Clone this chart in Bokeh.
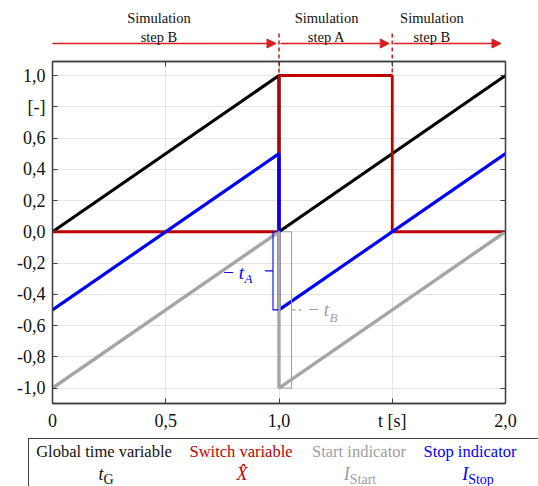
from bokeh.plotting import figure
from bokeh.layouts import column
from bokeh.models import (Range1d, LinearAxis, FixedTicker, Grid, Label, Arrow,
                          NormalHead, ColumnDataSource, Div)
from bokeh.embed import file_html
from bokeh.resources import INLINE

# ---------------- data ----------------
time_x = [0, 1, 1, 2]
global_time = [0, 1, 0, 1]          # t_G
switch_x = [0, 1, 1, 1.5, 1.5, 2]
switch_var = [0, 0, 1, 1, 0, 0]     # X^
start_ind = [-1, 0, -1, 0]          # I_Start
stop_ind = [-0.5, 0.5, -0.5, 0.5]   # I_Stop

step_bounds = [0, 1.0, 1.5, 2.0]
step_names = ["step B", "step A", "step B"]

x_ticks = [0, 0.5, 1.0, 1.5, 2.0]
x_tick_labels = ["0", "0,5", "1,0", "t [s]", "2,0"]
y_ticks = [-1.0, -0.8, -0.6, -0.4, -0.2, 0.0, 0.2, 0.4, 0.6, 0.8, 1.0]
y_tick_labels = ["-1,0", "-0,8", "-0,6", "-0,4", "-0,2", "0,0", "0,2", "0,4", "0,6", "[-]", "1,0"]

legend_names = ["Global time variable", "Switch variable", "Start indicator", "Stop indicator"]
legend_symbols = [("t", "G"), ("X&#770;", ""), ("I", "Start"), ("I", "Stop")]

# ---------------- styles ----------------
BLACK = "#000000"
RED = "#C00000"
GRAY = "#A6A6A6"
BLUE = "#0000FF"
ARROW_RED = "#D82020"
FRAME = "#404040"
FONT = "Liberation Serif"
legend_colors = ["#111111", RED, "#A0A0A0", BLUE]

W = 538
PX = 226.5                      # pixels per x unit
LEFT_B, RIGHT_B = 52, 33

# ---------------- header ----------------
HH = 59
hdr = figure(width=W, height=HH, x_range=Range1d(0, 2), y_range=Range1d(HH, 0),
             output_backend="svg", toolbar_location=None,
             x_axis_type=None, y_axis_type=None,
             min_border_left=LEFT_B, min_border_right=RIGHT_B,
             min_border_top=0, min_border_bottom=0, outline_line_color=None)
hdr.grid.visible = False
g = 1.5 / PX
arr_src = ColumnDataSource(dict(
    x0=[step_bounds[0] - g] + [b + g for b in step_bounds[1:-1]],
    x1=[b - 2 * g for b in step_bounds[1:-1]] + [step_bounds[-1] - 3 * g],
    y0=[43] * 3, y1=[43] * 3))
hdr.add_layout(Arrow(end=NormalHead(size=9, fill_color=ARROW_RED, line_color=ARROW_RED),
                     x_start="x0", y_start="y0", x_end="x1", y_end="y1",
                     source=arr_src, line_color=ARROW_RED, line_width=1.5))
hdr.segment(x0=step_bounds[1:-1], y0=[33] * 2, x1=step_bounds[1:-1], y1=[HH] * 2,
            line_color=ARROW_RED, line_width=1.6, line_dash="4 3")
label_x = [0.47, 1.21, 1.675]
for lx, nm in zip(label_x, step_names):
    for ly, tx in ((17, "Simulation"), (36, nm)):
        hdr.add_layout(Label(x=lx, y=ly, text=tx, text_font=FONT, text_font_size="14.5px",
                             text_align="center", text_baseline="middle",
                             text_color="#111111"))

# ---------------- main plot ----------------
y0, y1 = -1.099, 1.0896
p = figure(width=W, height=374, x_range=Range1d(0, 2), y_range=Range1d(y0, y1),
           output_backend="svg", toolbar_location=None,
           x_axis_type=None, y_axis_type=None,
           min_border_left=LEFT_B, min_border_right=RIGHT_B,
           min_border_top=2, min_border_bottom=30,
           outline_line_color=FRAME, outline_line_width=1.3)
xt = FixedTicker(ticks=x_ticks, minor_ticks=[])
yt = FixedTicker(ticks=y_ticks, minor_ticks=[])
p.add_layout(Grid(dimension=0, ticker=xt, grid_line_color="#E4E4E4", grid_line_width=1))
p.add_layout(Grid(dimension=1, ticker=yt, grid_line_color="#E4E4E4", grid_line_width=1))


def mk_axis(ticker, labels, ticks, show):
    ax = LinearAxis(ticker=ticker, axis_line_color=FRAME, axis_line_width=1.3,
                    major_tick_in=5, major_tick_out=0, major_tick_line_color=FRAME,
                    minor_tick_line_color=None)
    if show:
        ax.major_label_overrides = {t: l for t, l in zip(ticks, labels)}
        ax.major_label_text_font = FONT
        ax.major_label_text_font_size = "18px"
        ax.major_label_text_color = "#111111"
    else:
        ax.major_label_text_font_size = "0px"
        ax.major_label_standoff = 0
        ax.major_label_overrides = {t: "" for t in ticks}
    return ax


ax_b = mk_axis(xt, x_tick_labels, x_ticks, True)
ax_b.major_label_standoff = 7
ax_l = mk_axis(yt, y_tick_labels, y_ticks, True)
ax_l.major_label_standoff = 7
p.add_layout(ax_b, "below")
p.add_layout(ax_l, "left")
p.add_layout(mk_axis(xt, x_tick_labels, x_ticks, False), "above")
p.add_layout(mk_axis(yt, y_tick_labels, y_ticks, False), "right")

# dashed step boundaries continuing from header down to the switch level
p.segment(x0=step_bounds[1:-1], y0=[y1] * 2, x1=step_bounds[1:-1], y1=[1.0] * 2,
          line_color=ARROW_RED, line_width=1.6, line_dash="4 3")

# series
p.line(time_x, global_time, line_color=BLACK, line_width=3.2)
p.line(switch_x, switch_var, line_color=RED, line_width=2.8)
p.line(time_x, stop_ind, line_color=BLUE, line_width=3.2)
p.line(time_x, start_ind, line_color=GRAY, line_width=3.4)

# brace for -t_A (blue)
bx = 1 - 6 / PX
p.line([1 - 0.5 / PX, bx, bx, 1 - 0.5 / PX],
       [stop_ind[2] + 0.5, stop_ind[2] + 0.5, stop_ind[2], stop_ind[2]],
       line_color=BLUE, line_width=1.1)
p.segment(x0=[bx], y0=[-0.25], x1=[bx - 8 / PX], y1=[-0.25],
          line_color=BLUE, line_width=1.1)
p.add_layout(Label(x=1 - 35 / PX, y=-0.262, text="\u2212\u2009t", text_align="right",
                   text_baseline="middle", text_font=FONT, text_font_style="italic",
                   text_font_size="19px", text_color=BLUE))
p.add_layout(Label(x=1 - 34.5 / PX, y=-0.30, text="A", text_align="left",
                   text_baseline="middle", text_font=FONT, text_font_style="italic",
                   text_font_size="13px", text_color=BLUE))

# brace for -t_B (gray)
gx = 1 + 12.5 / PX
p.line([1 + 3 / PX, gx, gx, 1 + 1 / PX],
       [start_ind[1], start_ind[1], start_ind[2], start_ind[2]],
       line_color="#A0A0A0", line_width=1.1)
p.segment(x0=[gx], y0=[-0.5], x1=[gx + 10 / PX], y1=[-0.5],
          line_color="#A0A0A0", line_width=1.2, line_dash="4 3")
p.add_layout(Label(x=1 + 28 / PX, y=-0.5, text="\u2212\u2009t", text_align="left",
                   text_baseline="middle", text_font=FONT, text_font_style="italic",
                   text_font_size="19px", text_color="#A0A0A0"))
p.add_layout(Label(x=1 + 50.5 / PX, y=-0.55, text="B", text_align="left",
                   text_baseline="middle", text_font=FONT, text_font_style="italic",
                   text_font_size="13px", text_color="#A0A0A0"))

# ---------------- legend (HTML) ----------------
row1_cx = [104, 241, 359, 470]
row2_cx = [106, 242, 360, 478]
parts = ['<div style="position:relative;width:538px;height:53px;'
         'font-family:\'Liberation Serif\',serif;">',
         '<div style="position:absolute;left:28px;top:5px;width:520px;height:60px;'
         'border-top:1.5px solid #404040;border-left:1.5px solid #404040;"></div>']
for nm, (s, sub), col, c1, c2 in zip(legend_names, legend_symbols, legend_colors, row1_cx, row2_cx):
    parts.append(f'<div style="position:absolute;left:{c1 - 80}px;top:9px;width:160px;'
                 f'text-align:center;white-space:nowrap;font-size:16.5px;line-height:20px;'
                 f'color:{col};">{nm}</div>')
    subhtml = (f'<span style="font-style:normal;font-size:14px;position:relative;top:4px;">'
               f'{sub}</span>') if sub else ''
    parts.append(f'<div style="position:absolute;left:{c2 - 50}px;top:31px;width:100px;'
                 f'text-align:center;white-space:nowrap;font-size:18px;line-height:20px;'
                 f'color:{col};"><i>{s}</i>{subhtml}</div>')
parts.append('</div>')
leg = Div(text="".join(parts), width=W, height=53, margin=0)

layout = column(hdr, p, leg, spacing=0)
open("out.html", "w").write(file_html(layout, INLINE))
